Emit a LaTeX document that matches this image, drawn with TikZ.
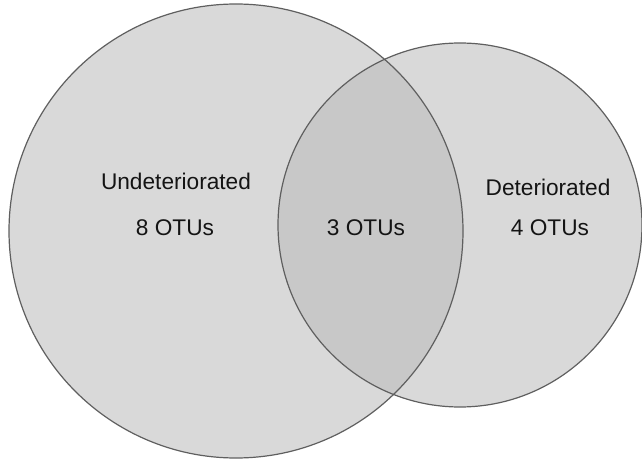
\documentclass[tikz,border=0pt]{standalone}
\usepackage{fontspec}
\setmainfont{Liberation Sans}
\begin{document}
\begin{tikzpicture}[x=0.75pt,y=0.75pt,yscale=-1,xscale=1,
  setline/.style={draw={rgb, 255:red, 95; green, 95; blue, 95}, line width=0.9},
  setlabel/.style={font=\fontsize{17}{20}\selectfont, text={rgb, 255:red, 20; green, 20; blue, 20}}]
\useasboundingbox (0,0) rectangle (642,459);

%Shape: Circle [Undeteriorated]
\fill [color={rgb, 255:red, 217; green, 217; blue, 217}] (236,231) circle (227);
%Shape: Circle [Deteriorated]
\fill [color={rgb, 255:red, 217; green, 217; blue, 217}] (460,225) circle (182);
%overlap
\begin{scope}
\clip (236,231) circle (227);
\fill [color={rgb, 255:red, 200; green, 200; blue, 200}] (460,225) circle (182);
\end{scope}
\draw [setline] (236,231) circle (227);
\draw [setline] (460,225) circle (182);

% Text
\node [setlabel] (undet) at (176,181) {Undeteriorated};
\node [setlabel] (undetn) at (175,228) {8 OTUs};
\node [setlabel] (both) at (366,228) {3 OTUs};
\node [setlabel] (det) at (548,187) {Deteriorated};
\node [setlabel] (detn) at (550,228) {4 OTUs};

\end{tikzpicture}
\end{document}
